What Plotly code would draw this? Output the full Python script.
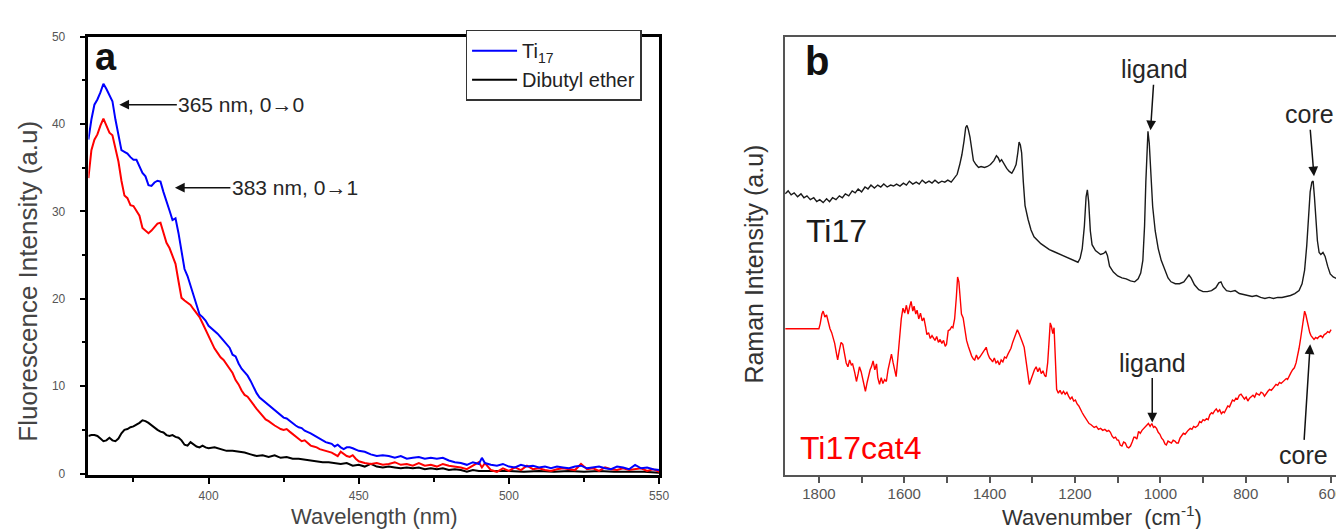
import plotly.graph_objects as go

W, H = 1344, 529
FONT = "Liberation Sans, Arial, sans-serif"

# ---------------- Panel a : fluorescence ----------------
wl_ti17 = [360,361,362,363,364,365,366,367,368,369,370,371,372,373,374,375,376,377,378,379,
           380,381,382,383,384,385,386,387,388,389,390,391,392,393,394,395,396,397,398,399,
           400,401,402,403,404,405,406,407,408,409,410,411,412,413,414,415,416,417,418,419,
           420,421,422,423,424,425,426,427,428,429,430,431,432,433,434,435,436,437,438,439,
           440,441,442,443,444,445,446,447,448,449,450,452,454,456,458,460,462,464,466,468,
           470,472,474,476,478,480,482,484,486,488,490,491,492,494,496,498,500,502,504,506,
           508,510,512,514,516,518,520,522,524,526,528,530,532,534,536,538,540,542,544,546,548,550]
ti17 = [38.2,40.5,42.2,42.8,43.6,44.6,44.0,43.2,42.6,40.5,38.8,37.0,36.8,36.6,36.2,35.9,35.9,35.2,34.4,34.0,
        33.0,32.9,33.3,33.5,33.4,32.2,31.0,30.1,29.0,29.2,27.5,25.5,23.4,22.6,21.5,20.4,19.5,18.2,17.9,17.5,
        16.9,16.6,16.4,16.0,15.6,15.2,14.9,14.4,13.6,13.4,12.6,12.0,11.6,11.2,10.6,9.9,9.2,8.7,8.4,8.1,
        7.8,7.5,7.3,7.0,6.7,6.4,6.3,6.0,5.8,5.5,5.3,5.2,4.9,4.7,4.6,4.4,4.2,4.0,3.8,3.6,
        3.5,3.4,3.1,3.3,3.0,2.8,3.0,3.0,2.9,2.7,2.6,2.5,2.2,2.0,2.1,2.0,1.8,2.0,1.7,1.8,
        1.9,1.7,1.8,1.7,1.8,1.5,1.3,1.2,1.0,1.3,1.1,1.8,1.2,1.0,0.9,1.1,0.8,0.7,1.0,0.8,
        0.9,0.7,0.8,0.6,0.8,0.7,0.6,0.8,0.9,0.6,0.7,0.8,0.6,0.5,0.8,0.7,0.5,1.0,0.6,0.7,0.5,0.4]

wl_cat = wl_ti17
ti17cat = [33.8,37.0,38.2,38.8,39.8,40.6,39.8,39.0,38.7,37.0,35.7,33.5,31.8,31.5,30.7,30.6,30.1,29.5,28.1,27.8,
           27.5,27.8,28.2,28.6,28.7,27.6,26.4,25.8,24.9,24.0,22.0,20.1,19.8,19.5,19.3,18.8,18.4,17.9,17.2,16.5,
           15.7,15.0,14.3,13.8,13.3,13.0,12.5,11.9,11.5,10.7,10.2,9.5,9.0,8.8,8.3,7.9,7.4,7.0,6.6,6.2,
           6.0,5.7,5.5,5.3,5.1,5.0,5.1,4.8,4.5,4.2,3.9,3.7,3.8,3.5,3.2,3.1,3.0,2.8,2.7,2.6,
           2.5,2.4,2.2,2.0,2.5,2.3,2.0,1.9,2.1,1.7,1.4,1.2,1.1,1.2,1.0,1.1,1.3,1.0,1.1,0.9,
           1.2,0.9,1.0,0.8,1.1,0.9,0.8,0.7,0.5,0.9,1.3,0.7,1.2,0.4,0.2,0.6,0.3,0.7,0.4,0.9,
           0.5,0.6,0.4,0.3,0.5,0.6,0.5,0.4,1.1,0.5,0.6,0.3,0.7,0.5,0.4,0.6,0.4,0.5,0.6,0.3,0.5,0.2]

wl_dbe = [360,361,362,363,364,365,366,367,368,369,370,371,372,373,374,375,376,377,378,379,
          380,381,382,383,384,385,386,387,388,389,390,391,392,393,394,395,396,397,398,399,
          400,402,404,406,408,410,412,414,416,418,420,422,424,426,428,430,432,434,436,438,
          440,442,444,446,448,450,452,454,456,458,460,462,464,466,468,470,472,474,476,478,
          480,482,484,486,488,490,495,500,505,510,515,520,525,530,535,540,545,550]
dbe = [4.3,4.4,4.4,4.3,4.0,3.7,3.8,4.1,3.8,3.7,4.0,4.6,5.0,5.1,5.3,5.4,5.6,5.8,6.1,6.0,
       5.8,5.5,5.3,5.0,4.8,4.7,4.4,4.3,4.4,4.2,4.1,3.8,3.3,3.2,3.6,3.4,3.1,3.0,3.2,3.0,
       2.9,3.0,2.8,2.6,2.6,2.5,2.4,2.2,2.0,2.1,1.9,2.1,1.8,1.9,1.7,1.7,1.6,1.5,1.4,1.3,
       1.3,1.2,1.1,1.2,0.9,1.0,0.8,1.1,0.8,0.7,0.8,0.7,0.6,0.7,0.6,0.7,0.5,0.6,0.5,0.6,
       0.4,0.5,0.4,0.2,0.4,0.3,0.3,0.3,0.2,0.3,0.2,0.3,0.2,0.3,0.2,0.2,0.2,0.1]

# ---------------- Panel b : Raman ----------------
wn_ti17 = [1879,1872,1865,1858,1850,1842,1835,1828,1820,1812,1805,1798,1790,1782,1775,1768,1760,1752,1745,1738,
           1730,1722,1715,1708,1700,1692,1685,1678,1670,1662,1655,1648,1640,1632,1625,1618,1610,1602,1595,1588,
           1580,1572,1565,1558,1550,1542,1535,1528,1520,1512,1505,1498,1490,1483,1476,1470,1465,1460,1456,1453,
           1450,1446,1442,1438,1432,1426,1420,1412,1405,1398,1390,1384,1380,1376,1372,1366,1360,1354,1348,1343,
           1338,1334,1331,1328,1325,1321,1317,1310,1303,1296,1288,1280,1270,1260,1250,1240,1230,1220,1210,1200,
           1193,1188,1183,1178,1174,1171,1168,1164,1160,1152,1145,1140,1133,1128,1124,1119,1110,1100,1090,1080,
           1070,1060,1052,1046,1041,1037,1034,1031,1029,1026,1022,1018,1012,1005,998,990,982,975,965,955,
           945,938,933,928,920,910,900,890,880,870,863,858,853,845,835,825,815,805,795,785,
           775,765,755,745,735,725,715,705,695,685,675,668,662,657,653,649,645,642,639,636,
           632,628,624,619,614,608,602,595,585,575,568]
raman_ti17 = [288,291,287,289,285,288,284,286,282,284,280,282,279,283,280,284,282,286,284,288,
              286,291,289,293,290,295,293,297,294,297,295,298,295,297,296,298,296,299,297,301,
              298,300,298,302,299,301,299,302,299,301,300,302,300,304,308,318,328,342,356,358,
              354,346,332,322,318,315,316,315,316,318,322,327,325,321,323,318,314,311,309,313,
              318,330,341,338,330,300,276,262,251,244,240,237,234,231,229,227,225,223,221,219,
              218,222,232,255,285,292,280,250,236,230,228,226,227,229,225,214,208,204,202,201,
              199,198,201,207,220,255,300,345,352,340,310,275,250,232,220,211,202,198,196,196,
              198,202,205,202,195,190,188,188,189,192,197,198,193,189,188,189,186,185,184,183,
              184,182,181,182,181,182,182,183,184,186,189,196,210,235,262,290,300,301,285,262,
              240,228,226,228,224,214,206,203,201,200,201]

wn_cat = [1879,1800,1797,1793,1790,1786,1782,1778,1774,1770,1767,1763,1759,1756,1752,1748,1744,1740,1736,1732,
          1728,1724,1721,1716,1712,1708,1705,1701,1697,1694,1691,1687,1683,1680,1677,1673,1669,1665,1662,1658,
          1654,1650,1646,1642,1638,1634,1630,1626,1622,1619,1615,1611,1607,1603,1599,1595,1591,1587,1584,1580,
          1577,1573,1570,1566,1562,1558,1554,1550,1547,1543,1539,1535,1532,1528,1524,1520,1516,1512,1508,1504,
          1501,1497,1493,1489,1486,1482,1478,1475,1472,1469,1466,1462,1458,1454,1450,1446,1442,1438,1435,1431,
          1427,1423,1419,1415,1411,1408,1404,1400,1396,1393,1389,1385,1381,1377,1373,1369,1365,1361,1357,1354,
          1350,1346,1342,1338,1335,1331,1327,1323,1319,1315,1311,1307,1303,1299,1295,1291,1287,1283,1279,1275,
          1271,1268,1264,1261,1258,1255,1252,1249,1246,1243,1239,1235,1231,1227,1223,1219,1215,1211,1207,1203,
          1199,1195,1191,1187,1183,1179,1175,1171,1167,1163,1160,1155,1150,1145,1140,1135,1130,1125,1121,1117,
          1113,1109,1105,1101,1098,1094,1090,1086,1082,1078,1074,1070,1066,1062,1059,1055,1051,1047,1043,1039,
          1035,1031,1028,1024,1020,1016,1013,1009,1005,1001,997,993,989,986,982,978,974,970,966,962,
          958,954,950,946,942,938,935,930,926,922,918,912,908,904,900,896,892,888,884,880,
          877,873,869,865,861,857,853,850,846,842,838,835,831,827,823,819,815,811,807,803,
          799,795,791,787,783,779,775,772,768,764,760,756,752,748,744,740,736,733,729,725,
          721,717,713,709,705,702,698,694,690,686,682,679,675,671,667,664,662,659,656,653,
          650,647,643,640,636,632,628,624,620,616,612,608,604,600]
raman_cat = [150,150,155,165,168,162,164,156,150,146,141,135,125,118,128,136,134,122,115,111,
             118,113,114,105,96,104,111,106,98,90,86,95,103,108,111,117,108,114,100,93,
             100,94,98,96,108,118,124,115,108,101,120,142,160,171,166,174,165,173,178,168,
             173,165,169,160,166,158,161,152,144,146,140,143,141,138,142,136,139,135,138,132,
             134,148,149,152,151,160,182,203,198,178,165,161,148,138,132,126,122,119,118,123,
             119,121,124,126,129,131,124,120,118,116,120,115,117,113,118,116,121,120,124,126,
             130,136,141,146,149,145,141,136,131,118,104,93,98,104,108,111,106,110,104,107,
             102,101,115,135,156,152,145,151,120,88,84,87,83,86,83,85,81,78,80,76,
             77,73,71,67,64,61,58,56,53,52,51,49,50,47,48,46,47,45,46,44,
             40,38,39,36,36,31,30,34,33,29,28,30,34,39,39,37,45,43,46,48,
             50,52,53,50,53,49,50,48,44,42,38,36,32,31,35,34,33,36,35,33,
             33,38,41,43,42,45,46,48,47,50,49,51,55,54,57,56,58,57,62,64,
             63,66,68,65,67,63,65,64,68,71,70,74,77,76,79,78,82,83,80,78,
             80,76,79,81,82,80,84,83,82,85,84,81,84,86,88,87,89,91,93,92,
             95,94,96,97,99,98,102,105,108,110,115,121,130,141,151,162,168,164,157,150,
             146,143,140,139,141,140,142,143,141,144,145,147,146,149]


def px(xp):
    return xp / W


def py(yp):
    return (H - yp) / H


fig = go.Figure()

# panel a traces
fig.add_trace(go.Scatter(x=wl_dbe, y=dbe, mode="lines", name="Dibutyl ether",
                         line=dict(color="#000000", width=2), xaxis="x", yaxis="y", legendrank=2))
fig.add_trace(go.Scatter(x=wl_cat, y=ti17cat, mode="lines", name="Ti17cat4", showlegend=False,
                         line=dict(color="#ff0000", width=2), xaxis="x", yaxis="y"))
fig.add_trace(go.Scatter(x=wl_ti17, y=ti17, mode="lines", name="Ti<sub>17</sub>",
                         line=dict(color="#0000ff", width=2), xaxis="x", yaxis="y", legendrank=1))

# panel b traces
fig.add_trace(go.Scatter(x=wn_ti17, y=raman_ti17, mode="lines", showlegend=False,
                         line=dict(color="#1a1a1a", width=1.4), xaxis="x2", yaxis="y2"))
fig.add_trace(go.Scatter(x=wn_cat, y=raman_cat, mode="lines", showlegend=False,
                         line=dict(color="#ff0000", width=1.4), xaxis="x2", yaxis="y2"))

ydom = [py(471), py(22)]

fig.update_layout(
    width=W, height=H,
    margin=dict(l=0, r=0, t=0, b=0),
    paper_bgcolor="white", plot_bgcolor="white",
    font=dict(family=FONT, color="#333333"),
    showlegend=True,
    legend=dict(x=px(461), y=py(15), xanchor="left", yanchor="top",
                bordercolor="#333333", borderwidth=1.5, bgcolor="white",
                font=dict(size=20, color="#222222", family=FONT),
                tracegroupgap=0, itemwidth=45),
    xaxis=dict(domain=[px(81), px(656)], range=[360, 550],
               showline=True, linecolor="black", linewidth=2.5, mirror=True,
               ticks="outside", ticklen=6, tickwidth=2, tickcolor="black",
               tickvals=[400, 450, 500, 550],
               minor=dict(tickvals=[375, 425, 475, 525], ticks="outside", ticklen=4, tickwidth=2, tickcolor="black"),
               tickfont=dict(size=12, color="#555555"), ticklabelstandoff=2,
               showgrid=False, zeroline=False),
    yaxis=dict(domain=ydom, range=[-0.2, 50],
               showline=True, linecolor="black", linewidth=2.5, mirror=True,
               ticks="outside", ticklen=6, tickwidth=2, tickcolor="black",
               tickvals=[0, 10, 20, 30, 40, 50],
               minor=dict(tickvals=[5, 15, 25, 35, 45], ticks="outside", ticklen=4, tickwidth=1.5, tickcolor="black"),
               tickfont=dict(size=12, color="#555555"), ticklabelstandoff=12,
               showgrid=False, zeroline=False),
    xaxis2=dict(domain=[px(783), 1.0], range=[1879, 574.4], anchor="y2",
                showline=True, linecolor="#555555", linewidth=1.5, mirror=True,
                ticks="outside", ticklen=6, tickwidth=1.5, tickcolor="#555555",
                tick0=0, dtick=200,
                minor=dict(dtick=100, tick0=0, ticks="outside", ticklen=6, tickwidth=1.5, tickcolor="#555555"),
                tickfont=dict(size=15, color="#555555"), ticklabelstandoff=-2,
                showgrid=False, zeroline=False),
    yaxis2=dict(domain=ydom, range=[0, 449], anchor="x2",
                showline=True, linecolor="#555555", linewidth=1.5, mirror=False,
                ticks="", showticklabels=False, showgrid=False, zeroline=False),
)


def label(xp, yp, text, size, color, angle=0, xanchor="center"):
    return dict(x=px(xp), y=py(yp), xref="paper", yref="paper", text=text, showarrow=False,
                textangle=angle, xanchor=xanchor, yanchor="middle",
                font=dict(size=size, color=color, family=FONT))


def arrow(x, y, xr, yr, text, ax, ay, size):
    return dict(x=x, y=y, xref=xr, yref=yr, text=text, showarrow=True,
                ax=ax, ay=ay, arrowhead=2, arrowsize=1.3, arrowwidth=1.5, arrowcolor="#111111",
                xanchor="center", yanchor="middle",
                font=dict(size=size, color="#262626", family=FONT))


ann = [
    label(99, 43, "<b>a</b>", 38, "#111111"),
    label(815, 47, "<b>b</b>", 40, "#111111"),
    label(20, 272, "Fluorescence Intensity (a.u)", 26, "#444444", angle=-90),
    label(369, 513, "Wavelength (nm)", 22, "#444444"),
    label(752, 255, "Raman Intensity (a.u)", 25, "#333333", angle=-90),
    label(1102, 513, "Wavenumber  (cm<sup>-1</sup>)", 22, "#333333"),
    arrow(370.3, 42.2, "x", "y", "365 nm, 0\u21920", 122, 0, 21),
    arrow(388.8, 32.7, "x", "y", "383 nm, 0\u21921", 120, 0, 21),
    label(802, 221, "Ti17", 32, "#1a1a1a", xanchor="left"),
    label(796, 443, "Ti17cat4", 32, "#ff0000", xanchor="left"),
    arrow(1023, 353, "x2", "y2", "ligand", 4, -61, 25),
    arrow(640, 306, "x2", "y2", "core", -5, -62, 25),
    arrow(1019, 54, "x2", "y2", "ligand", 0, -60, 25),
    arrow(649, 134, "x2", "y2", "core", -7, 111, 25),
]
fig.update_layout(annotations=ann)

fig.write_html("out.html")
